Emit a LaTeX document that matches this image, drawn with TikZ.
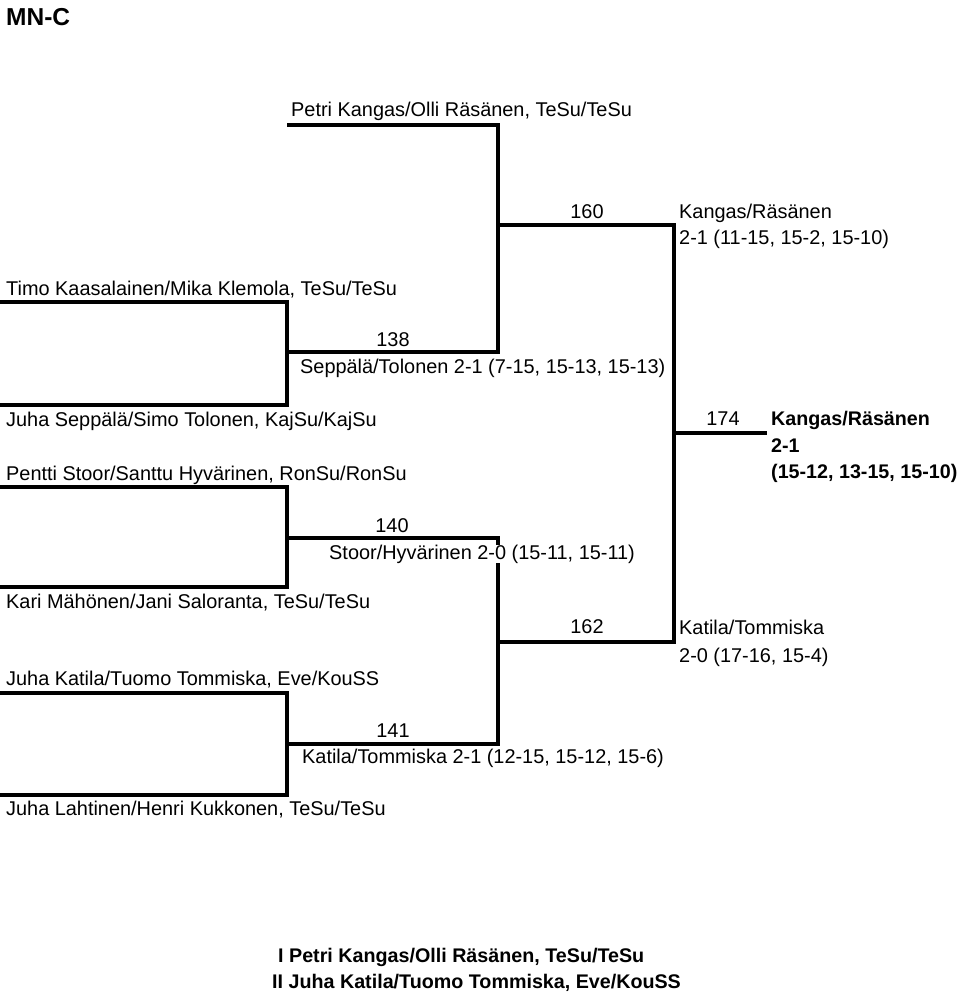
\documentclass[tikz,border=0pt]{standalone}
\usepackage{fontspec}
\setmainfont{Liberation Sans}
\begin{document}
\begin{tikzpicture}[x=1pt,y=-1pt,font=\fontsize{19.9}{23}\selectfont,
  every node/.style={inner sep=0pt},
  player/.style={anchor=base west},
  matchno/.style={anchor=base},
  winner/.style={player,font=\fontsize{19.7}{23}\selectfont\bfseries},
  bline/.style={line width=4.5pt,line join=miter}]
  \useasboundingbox (0,0) rectangle (960,995);
  \coordinate (timo) at (0,302);
  \coordinate (seppala) at (0,405);
  \coordinate (pentti) at (0,487);
  \coordinate (kari) at (0,587);
  \coordinate (katila) at (0,693);
  \coordinate (lahtinen) at (0,795);
  \coordinate (petri) at (287,125);
  \coordinate (m138) at (287,352);
  \coordinate (m140) at (287,538);
  \coordinate (m141) at (287,744);
  \coordinate (m160) at (498,225);
  \coordinate (m162) at (498,642);
  \coordinate (m174) at (674,433);
  \coordinate (final) at (767,433);
  \draw [bline] (timo) -| (m138) |- (seppala);
  \draw [bline] (pentti) -| (m140) |- (kari);
  \draw [bline] (katila) -| (m141) |- (lahtinen);
  \draw [bline] (petri) -| (m160) |- (m138);
  \draw [bline] (m140) -| (m162) |- (m141);
  \draw [bline] (m160) -| (m174) |- (m162);
  \draw [bline] (m174) -- (final);
  \node [player,font=\fontsize{24.5}{28}\selectfont\bfseries] (title) at (6,26) {MN-C};
  \node [player] (n-petri) at (291,117) {Petri Kangas/Olli Räsänen, TeSu/TeSu};
  \node [player] (n-timo) at (6,295) {Timo Kaasalainen/Mika Klemola, TeSu/TeSu};
  \node [player] (n-seppala) at (6,426) {Juha Seppälä/Simo Tolonen, KajSu/KajSu};
  \node [player] (n-pentti) at (6,480) {Pentti Stoor/Santtu Hyvärinen, RonSu/RonSu};
  \node [player] (n-kari) at (6,608) {Kari Mähönen/Jani Saloranta, TeSu/TeSu};
  \node [player] (n-katila) at (6,685) {Juha Katila/Tuomo Tommiska, Eve/KouSS};
  \node [player] (n-lahtinen) at (6,815) {Juha Lahtinen/Henri Kukkonen, TeSu/TeSu};
  \node [matchno] (l138) at (393,346) {138};
  \node [player] (r138) at (300,373) {Seppälä/Tolonen 2-1 (7-15, 15-13, 15-13)};
  \node [matchno] (l140) at (392,532) {140};
  \node [player,fill=white] (r140) at (329,559) {Stoor/Hyvärinen 2-0 (15-11, 15-11)};
  \node [matchno] (l141) at (393,737) {141};
  \node [player] (r141) at (302,763) {Katila/Tommiska 2-1 (12-15, 15-12, 15-6)};
  \node [matchno] (l160) at (587,218) {160};
  \node [player] (w160) at (679,218) {Kangas/Räsänen};
  \node [player] (r160) at (679,244) {2-1 (11-15, 15-2, 15-10)};
  \node [matchno] (l162) at (587,633) {162};
  \node [player] (w162) at (679,634) {Katila/Tommiska};
  \node [player] (r162) at (679,662) {2-0 (17-16, 15-4)};
  \node [matchno] (l174) at (723,425) {174};
  \node [winner] (w174) at (771,425) {Kangas/Räsänen};
  \node [winner] (s174) at (771,452) {2-1};
  \node [winner] (r174) at (771,478) {(15-12, 13-15, 15-10)};
  \node [winner] (first) at (278,962) {I Petri Kangas/Olli Räsänen, TeSu/TeSu};
  \node [winner] (second) at (272,988) {II Juha Katila/Tuomo Tommiska, Eve/KouSS};
\end{tikzpicture}
\end{document}
